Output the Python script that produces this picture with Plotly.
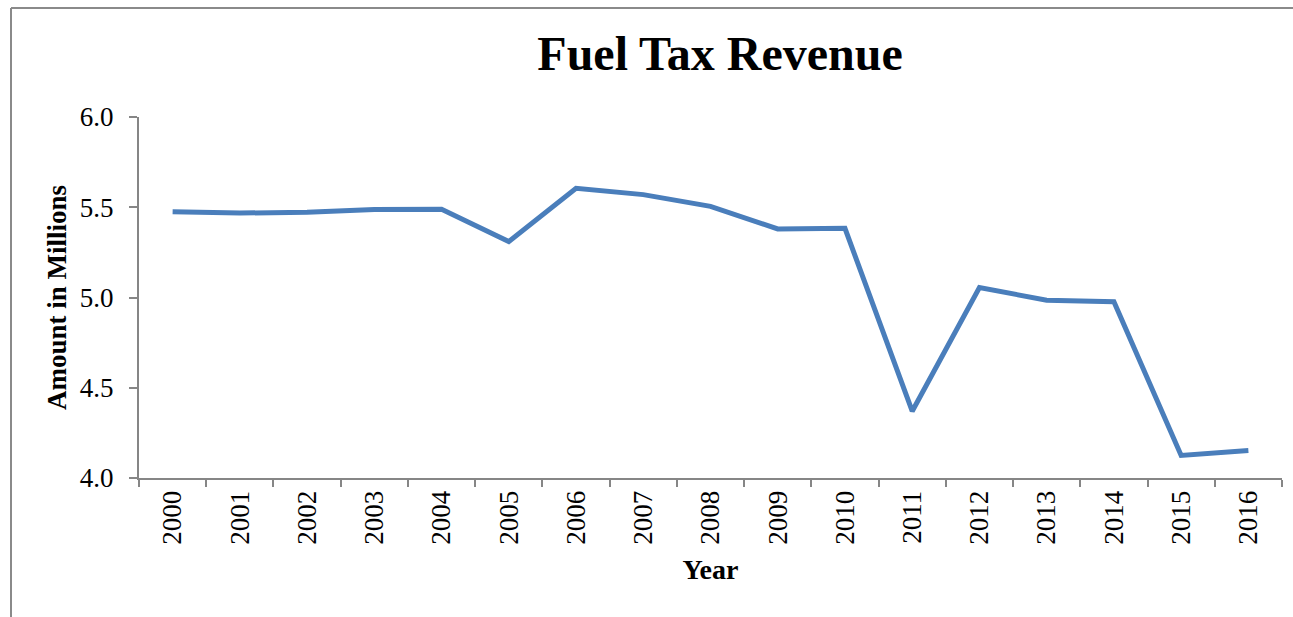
import plotly.graph_objects as go

# Annual fuel tax revenue (millions)
years = ["2000", "2001", "2002", "2003", "2004", "2005", "2006", "2007", "2008",
         "2009", "2010", "2011", "2012", "2013", "2014", "2015", "2016"]
revenue = [5.475, 5.468, 5.472, 5.487, 5.489, 5.310, 5.605, 5.570, 5.505,
           5.380, 5.383, 4.370, 5.055, 4.985, 4.977, 4.125, 4.152]
y_ticks = [4.0, 4.5, 5.0, 5.5, 6.0]

W, H = 1293, 617
ML, MR, MT, MB = 139, 11, 117, 139
plot_w = W - ML - MR
plot_h = H - MT - MB

serif = "Liberation Serif, Times New Roman, serif"
axis_grey = "#868686"

fig = go.Figure(
    go.Scatter(
        x=years,
        y=revenue,
        mode="lines",
        line=dict(color="#4A7EBB", width=5),
        hoverinfo="x+y",
    )
)

fig.update_layout(
    width=W,
    height=H,
    margin=dict(l=ML, r=MR, t=MT, b=MB),
    paper_bgcolor="white",
    plot_bgcolor="white",
    showlegend=False,
    font=dict(family=serif, size=27, color="black"),
    title=dict(
        text="<b>Fuel Tax Revenue</b>",
        font=dict(family=serif, size=48, color="black"),
        x=720 / W,
        xanchor="center",
        xref="container",
        y=1 - 53 / H,
        yanchor="middle",
        yref="container",
    ),
    xaxis=dict(
        type="category",
        tickson="boundaries",
        ticks="outside",
        ticklen=7,
        tickwidth=2,
        tickcolor=axis_grey,
        showline=True,
        linecolor=axis_grey,
        linewidth=2,
        showgrid=False,
        tickangle=-90,
        tickfont=dict(family=serif, size=27),
        title=dict(text="<b>Year</b>", font=dict(family=serif, size=28), standoff=16),
        range=[-0.5, len(years) - 0.5],
    ),
    yaxis=dict(
        range=[4.0, 6.0],
        tickvals=y_ticks,
        ticktext=[f"{v:.1f}" for v in y_ticks],
        ticks="outside",
        ticklen=8,
        tickwidth=2,
        tickcolor=axis_grey,
        showline=True,
        linecolor=axis_grey,
        linewidth=2,
        showgrid=False,
        zeroline=False,
        ticklabelstandoff=10,
        tickfont=dict(family=serif, size=27),
        title=dict(text="<b>Amount in Millions</b>", font=dict(family=serif, size=27), standoff=5),
    ),
)

# Outer frame lines (left and top edges of the chart area)
x_left = (11 - ML) / plot_w
y_top = (H - MB - 8) / plot_h
y_bottom = (H - MB - H) / plot_h
fig.add_shape(type="line", xref="paper", yref="paper",
              x0=x_left, x1=(W - ML) / plot_w, y0=y_top, y1=y_top,
              line=dict(color="#8a8a8a", width=2))
fig.add_shape(type="line", xref="paper", yref="paper",
              x0=x_left, x1=x_left, y0=y_bottom, y1=y_top,
              line=dict(color="#8a8a8a", width=2))

fig.write_html("out.html")
